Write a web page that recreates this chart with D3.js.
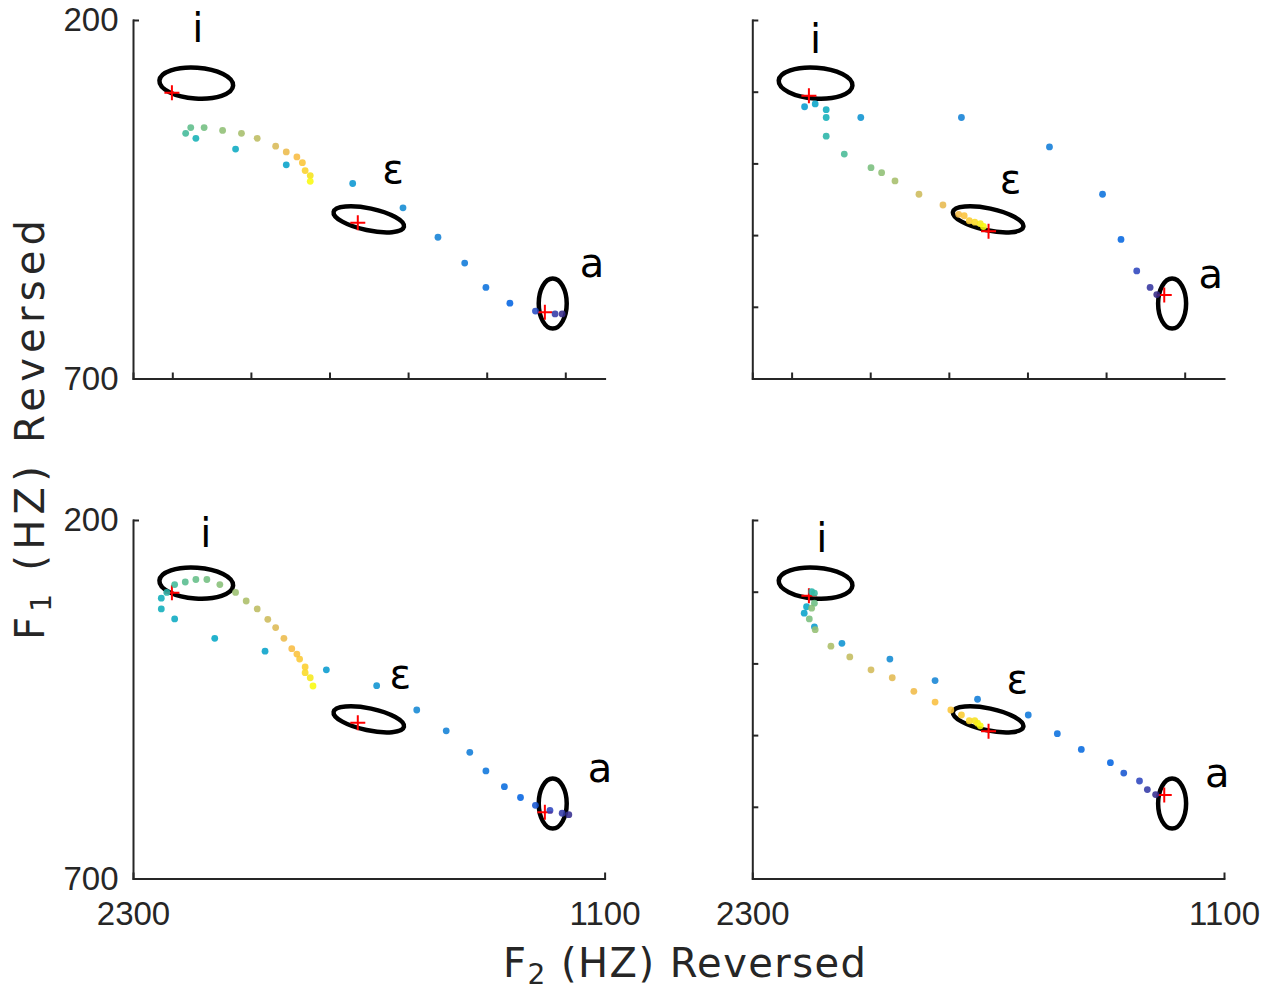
<!DOCTYPE html>
<html><head><meta charset="utf-8">
<script src="https://cdn.jsdelivr.net/npm/d3@7"></script>
<style>body{margin:0;background:#fff}svg{display:block}</style>
</head><body>
<svg id="chart" width="1275" height="991"></svg>
<script>
// ---------- data ----------
const f2Domain = [2300, 1100];
const f1Domain = [200, 700];
const xTicksTop = [2300, 2200, 2000, 1800, 1600, 1400, 1200];
const xTicksBottom = [2300, 1100];
const yTicksLeft = [200, 700];
const yTicksRight = [200, 300, 400, 500, 600, 700];
const vowelNames = ["i", "ε", "a"];
// vowel ellipses: centre [F2, F1], semi-axes [Hz along F2, Hz along F1], tilt (deg)
const ellipseCenters = [[2139, 288], [1700, 478], [1232, 595.5]];
const ellipseRadii = [[94, 21.5], [91.5, 15.3], [35.6, 34.9]];
const ellipseTilt = [4, 12, 0];
// target crosses
const targetsLeft = [[2201, 301.5], [1728, 482.7], [1252, 607.5]];
const targetsRight = [[2156, 305.5], [1699, 494.5], [1252, 583.5]];
// vowel label positions [F2, F1]
const labelsTL = [[2135, 231], [1638, 427], [1132, 558]];
const labelsTR = [[2139, 246.5], [1643, 441.7], [1134, 574]];
const labelsBL = [[2115, 237], [1620, 434.7], [1112, 565]];
const labelsBR = [[2123, 245], [1626, 441.7], [1117, 572.8]];
// trajectory points [F2, F1, colour value]
const pointsTL = [
  [2166,358,0.52],[2153,350,0.56],[2140,365,0.44],[2119,350,0.59],[2072,354,0.63],
  [2024,358,0.67],[2039,380,0.40],[1984,365,0.71],[1937,376,0.76],[1910,384,0.80],
  [1910,402,0.36],[1883,391,0.83],[1869,399,0.86],[1862,410,0.90],[1849,417,0.95],
  [1849,425,1.00],[1741,428,0.31],[1613,462,0.27],[1524,503,0.24],[1456,539,0.21],
  [1402,573,0.18],[1341,595,0.13],[1276,606,0.08],[1226,610,0.04],[1208,610,0.00]
];
const pointsTR = [
  [2167,321,0.33],[2140,317,0.37],[2112,325,0.41],[2112,336,0.43],[2024,336,0.30],
  [1768,336,0.24],[2112,362,0.48],[2066,387,0.53],[1998,406,0.60],[1971,413,0.63],
  [1937,424.5,0.67],[1876,443,0.74],[1815,458,0.79],[1775,471,0.82],[1761,473,0.85],
  [1748,480,0.88],[1734,482,0.92],[1720,484,0.96],[1712,488,1.00],[1544,377,0.22],
  [1409,443,0.18],[1362,506,0.14],[1322,550,0.07],[1288,573,0.03],[1271,583,0.00]
];
const pointsBL = [
  [2228,309,0.42],[2228,324,0.42],[2214,301,0.47],[2194,290,0.52],[2194,338,0.40],
  [2167,286.5,0.55],[2140,283,0.57],[2112,283,0.59],[2079,290,0.62],[2039,301,0.65],
  [2092,365,0.38],[2012,313,0.68],[1984,324,0.71],[1957,338.5,0.74],[1937,350,0.77],
  [1964,383,0.36],[1916,365,0.80],[1896,379.5,0.83],[1883,387,0.85],[1876,394,0.87],
  [1862,405,0.89],[1862,413,0.92],[1849,420,0.96],[1842,431.5,1.00],[1808,409,0.33],
  [1680,431,0.30],[1578,465,0.26],[1503,494,0.24],[1443,524,0.22],[1402,550,0.19],
  [1355,572,0.16],[1314,587,0.13],[1276,598,0.10],[1239,605,0.07],[1208,609,0.04],
  [1191,611,0.01]
];
const pointsBR = [
  [2149,300,0.47],[2142,302,0.50],[2142,316,0.58],[2162,321,0.38],[2149,323,0.62],
  [2168,330,0.36],[2155,338,0.60],[2142,349,0.33],[2140,353,0.64],[2072,372,0.30],
  [2100,376,0.68],[2052,391,0.72],[1950,394,0.27],[1998,409,0.75],[1944,420,0.78],
  [1835,424,0.25],[1889,439,0.81],[1835,454,0.84],[1795,465,0.86],[1768,472,0.88],
  [1748,480,0.91],[1734,480,0.94],[1727,483.5,0.97],[1720,487,1.00],[1727,450,0.22],
  [1598,472,0.20],[1524,498,0.17],[1463,520,0.15],[1389,538.5,0.13],[1355,553,0.10],
  [1315,564,0.07],[1295,576,0.04],[1274,583,0.01]
];

// ---------- parula colour map ----------
const parulaHex = ["#352a87","#3243ba","#0363e1","#0d75dc","#1485d4","#0998d1","#06a7c6","#15b1b4",
  "#38b99e","#65be86","#92bf73","#b7bd64","#d9ba56","#f8bb44","#fcce2e","#f5e41d","#f9fb0e"];
const parulaPos = [0,4,8,12,16,20,24,28,32,36,40,44,48,52,56,60,63].map(d => d / 63);
const parula = d3.scaleLinear().domain(parulaPos).range(parulaHex).interpolate(d3.interpolateRgb).clamp(true);

// ---------- layout ----------
const panels = [
  {x0:133,   x1:604.6, y0:20,  y1:378.5, pts:pointsTL, tg:targetsLeft,  lab:labelsTL, xt:xTicksTop,    xl:false, yt:yTicksLeft,  yl:true},
  {x0:752.3, x1:1224,  y0:20,  y1:378.5, pts:pointsTR, tg:targetsRight, lab:labelsTR, xt:xTicksTop,    xl:false, yt:yTicksRight, yl:false},
  {x0:133,   x1:604.6, y0:520, y1:878.5, pts:pointsBL, tg:targetsLeft,  lab:labelsBL, xt:xTicksBottom, xl:true,  yt:yTicksLeft,  yl:true},
  {x0:752.3, x1:1224,  y0:520, y1:878.5, pts:pointsBR, tg:targetsRight, lab:labelsBR, xt:xTicksBottom, xl:true,  yt:yTicksRight, yl:false}
];

const svg = d3.select("#chart");
const axisColor = "#262626";
const tickFont = "'Liberation Sans', Arial, sans-serif";
const labelFont = "'DejaVu Sans', Verdana, sans-serif";

panels.forEach(p => {
  const x = d3.scaleLinear().domain(f2Domain).range([p.x0, p.x1]);
  const y = d3.scaleLinear().domain(f1Domain).range([p.y0, p.y1]);
  const g = svg.append("g");

  const ax = d3.axisBottom(x).tickValues(p.xt).tickSizeInner(-6).tickSizeOuter(0).tickPadding(23.5)
    .tickFormat(p.xl ? d3.format("d") : () => "");
  const ay = d3.axisLeft(y).tickValues(p.yt).tickSizeInner(-6).tickSizeOuter(0).tickPadding(14.5)
    .tickFormat(p.yl ? d3.format("d") : () => "");
  [g.append("g").attr("transform", `translate(0,${p.y1})`).call(ax),
   g.append("g").attr("transform", `translate(${p.x0},0)`).call(ay)].forEach(a => {
    a.select(".domain").attr("stroke", axisColor).attr("stroke-width", 2).attr("stroke-linecap", "square");
    a.selectAll(".tick line").attr("stroke", axisColor).attr("stroke-width", 2);
    a.selectAll(".tick text").attr("fill", axisColor).style("font-family", tickFont).style("font-size", "33px");
  });

  g.append("g").selectAll("ellipse").data(ellipseCenters).join("ellipse")
    .attr("cx", d => x(d[0])).attr("cy", d => y(d[1]))
    .attr("rx", (d, i) => Math.abs(x(d[0] - ellipseRadii[i][0]) - x(d[0])))
    .attr("ry", (d, i) => Math.abs(y(d[1] + ellipseRadii[i][1]) - y(d[1])))
    .attr("transform", (d, i) => `rotate(${ellipseTilt[i]},${x(d[0])},${y(d[1])})`)
    .attr("fill", "none").attr("stroke", "#000").attr("stroke-width", 4.5);

  g.append("g").selectAll("path").data(p.tg).join("path")
    .attr("transform", d => `translate(${x(d[0])},${y(d[1])})`)
    .attr("d", "M-7.5,0H7.5M0,-7.5V7.5")
    .attr("stroke", "#ff0000").attr("stroke-width", 2).attr("fill", "none");

  g.append("g").selectAll("circle").data(p.pts).join("circle")
    .attr("cx", d => x(d[0])).attr("cy", d => y(d[1])).attr("r", 3.4)
    .attr("fill", d => parula(d[2])).attr("fill-opacity", 0.88);

  g.append("g").selectAll("text").data(p.lab).join("text")
    .attr("x", d => x(d[0])).attr("y", d => y(d[1]))
    .attr("text-anchor", "middle")
    .style("font-family", labelFont).style("font-size", "40px").attr("fill", "#000")
    .text((d, i) => vowelNames[i]);
});

// axis titles
function axisTitle(sel, sub) {
  sel.style("font-family", labelFont).style("font-size", "40px").attr("fill", "#262626");
  sel.append("tspan").text("F");
  sel.append("tspan").attr("dy", 7).style("font-size", "28px").text(sub);
  sel.append("tspan").attr("dy", -7).text(" (HZ) Reversed");
}
svg.append("text").attr("x", 503).attr("y", 977)
  .attr("textLength", 363).attr("lengthAdjust", "spacing")
  .call(axisTitle, "2");
svg.append("text").attr("transform", "translate(44,640) rotate(-90)")
  .attr("textLength", 420).attr("lengthAdjust", "spacing")
  .call(axisTitle, "1");
</script>
</body></html>
